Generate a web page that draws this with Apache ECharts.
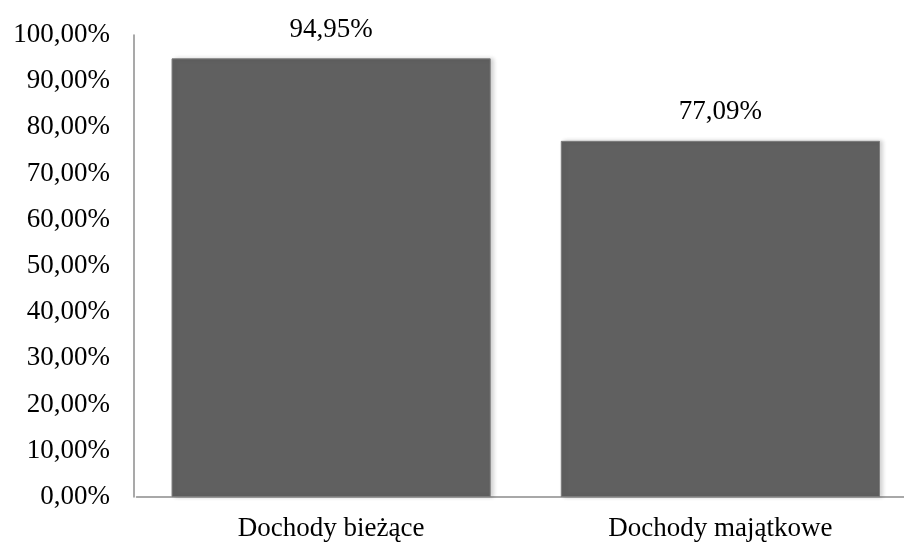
<!DOCTYPE html>
<html>
<head>
<meta charset="utf-8">
<script src="https://cdn.jsdelivr.net/npm/echarts@6/dist/echarts.min.js"></script>
<style>html,body{margin:0;padding:0;background:#fff;overflow:hidden;}#wrap{width:904px;height:551px;overflow:hidden;}#c{width:915px;height:551px;}</style>
</head>
<body>
<div id="wrap"><div id="c"></div></div>
<script>
const categories = ['Dochody bieżące', 'Dochody majątkowe'];
const values = [94.95, 77.09];
const fmt = v => v.toFixed(2).replace('.', ',') + '%';
const chart = echarts.init(document.getElementById('c'), null, {renderer: 'canvas'});
const font = '"Liberation Serif", "Times New Roman", serif';
chart.setOption({
  animation: false,
  backgroundColor: '#fff',
  grid: {left: 136.5, top: 35, bottom: 54, right: 0},
  xAxis: {
    type: 'category',
    data: categories,
    axisLine: {lineStyle: {color: '#8c8c8c', width: 1.5}},
    axisTick: {show: false},
    axisLabel: {color: '#000', fontFamily: font, fontSize: 27, margin: 18}
  },
  yAxis: {
    type: 'value',
    min: 0, max: 100, interval: 10,
    offset: 2.5,
    axisLine: {show: true, lineStyle: {color: '#8c8c8c', width: 1.5}},
    axisTick: {show: false},
    splitLine: {show: false},
    axisLabel: {color: '#000', fontFamily: font, fontSize: 27, margin: 24, formatter: v => fmt(v)}
  },
  series: [{
    type: 'bar',
    data: values,
    barCategoryGap: '18%',
    itemStyle: {
      color: '#606060',
      borderColor: '#7c7c7c',
      borderWidth: 1,
      shadowColor: 'rgba(0,0,0,0.18)',
      shadowBlur: 4,
      shadowOffsetX: 3,
      shadowOffsetY: 0
    },
    label: {
      show: true,
      position: 'top',
      distance: 15,
      color: '#000',
      fontFamily: font,
      fontSize: 27,
      formatter: p => fmt(p.value)
    }
  }]
});
</script>
</body>
</html>
